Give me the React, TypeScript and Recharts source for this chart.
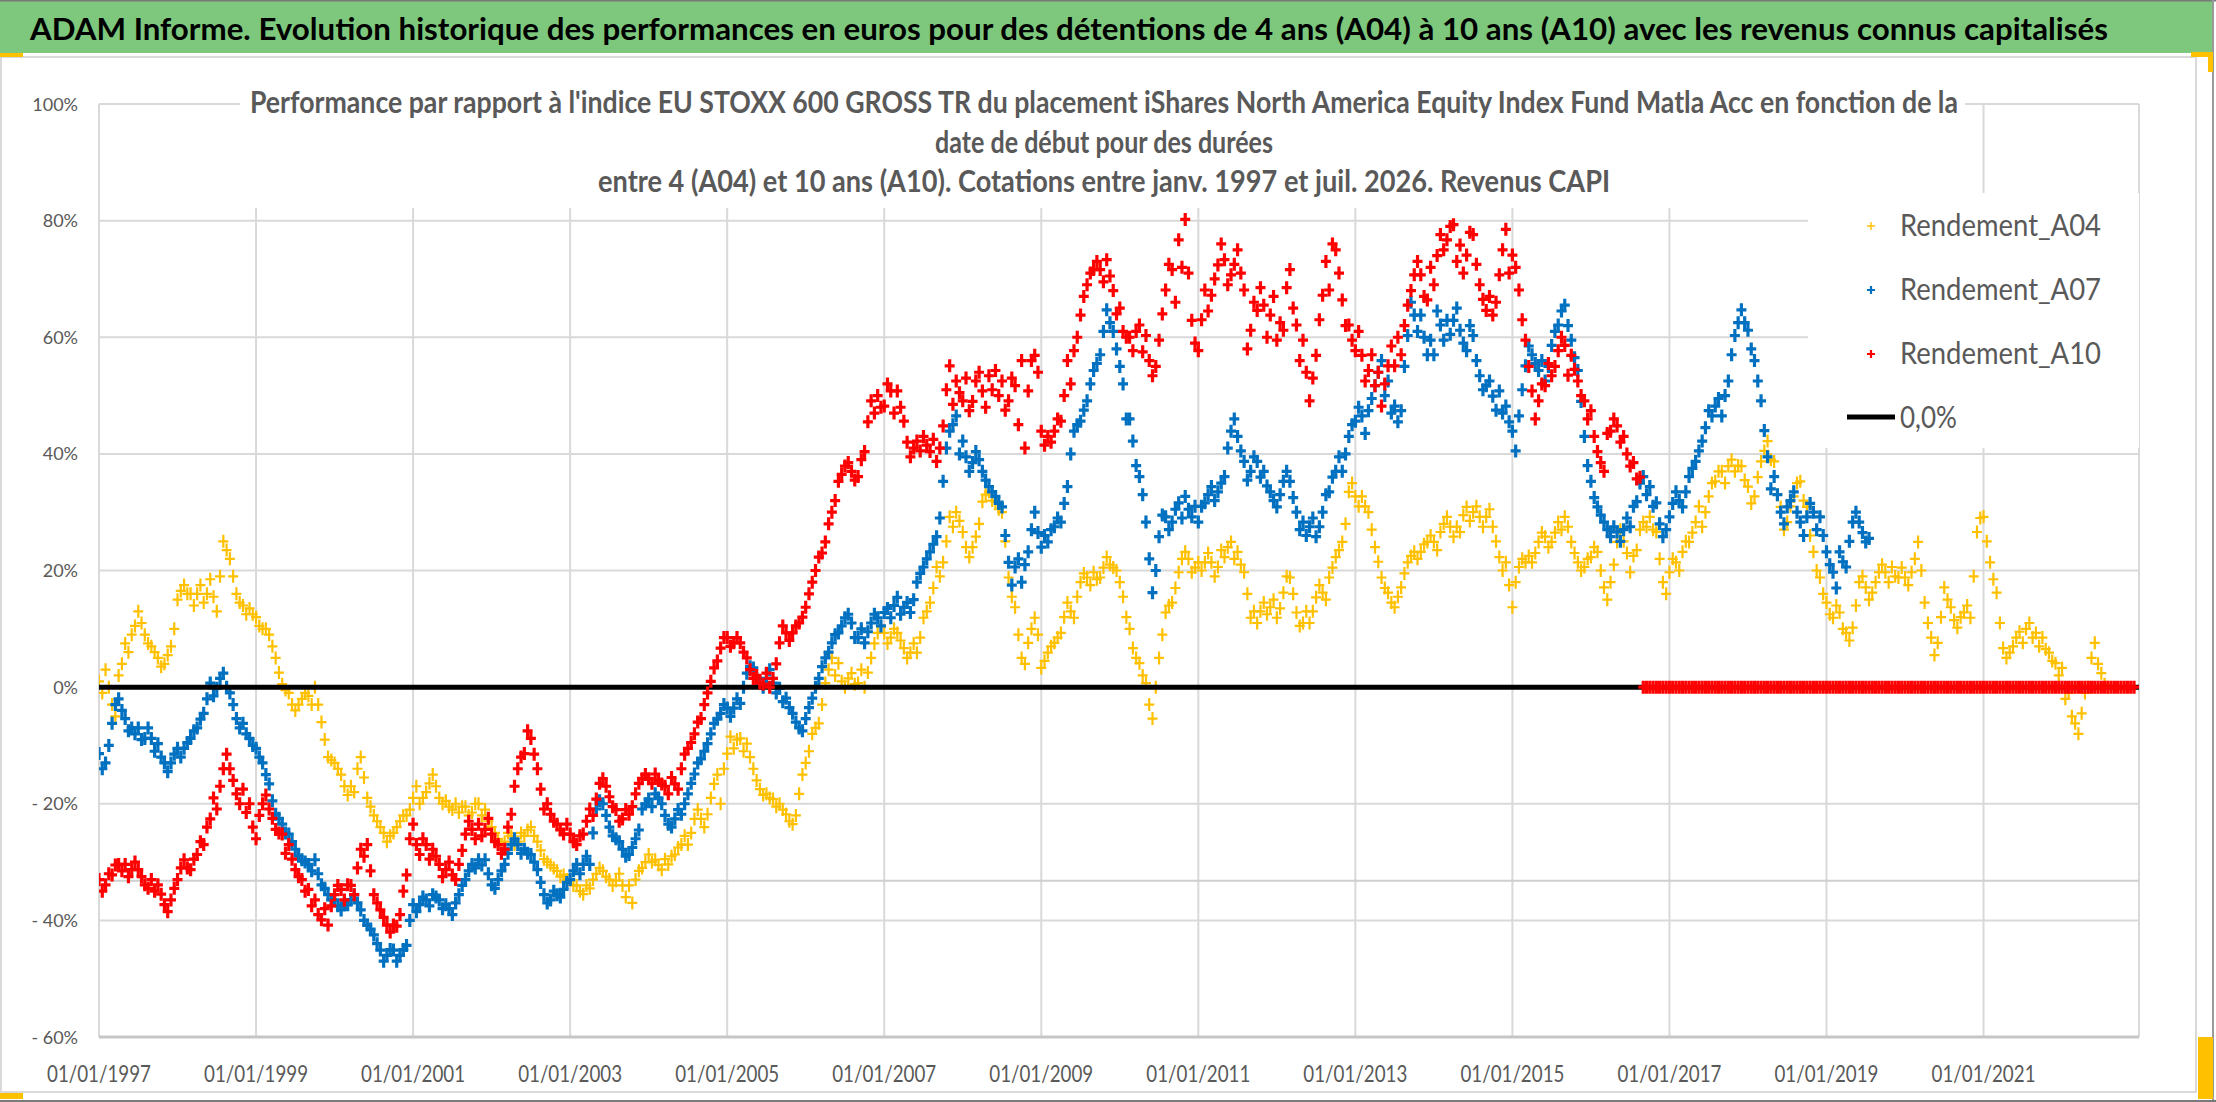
import React from 'react';
import { ScatterChart, Scatter, XAxis, YAxis, CartesianGrid } from 'recharts';

// Readings taken twice a month: *Values at the 1st of each month, *Mid at mid-month.
// First reading = 01/01/1997.
const START_YEAR = 1997;

const a04Values = [
  1, 3, -3, 2, 7.5, 9, 13, 9, 7, 5, 4, 7,
  15, 17.5, 16, 16, 14.5, 18.5, 13, 25, 22, 16, 14, 13.5,
  12, 10, 9, 5, 0.5, -1, -4, -2, -1.5, 0, -6, -12,
  -13, -15, -18.5, -18, -12, -19, -22, -24, -26.5, -25, -23, -22,
  -19, -20, -18, -15, -19, -19.5, -21, -21.5, -20.5, -21.5, -20, -21,
  -24, -26, -26.5, -25.5, -26.5, -25.5, -24, -26.5, -29.5, -30.5, -31.5, -32.2,
  -33, -34, -35.5, -34.5, -32, -31.5, -33, -33.2, -34, -34, -33, -31,
  -28.7, -29.6, -31.3, -30.4, -28.7, -27, -27, -22.6, -22.6, -21.8, -16.6, -20,
  -11.4, -10.5, -8.8, -9.7, -14, -17.5, -18.3, -19.2, -20, -21.8, -23.5, -18.3,
  -13, -8, -6.2, 0.7, 5, 4.1, 0, 2.4, 0.7, 0, 5, 9.3,
  9.3, 8.5, 9.3, 6.7, 5.9, 5.9, 11.9, 14.5, 20.6, 21.4, 29.2, 30,
  26.6, 22.3, 25.8, 31.8, 33.5, 31.8, 30, 18.8, 13.7, 5, 7.6, 11.9,
  3.3, 5.9, 7.6, 9.3, 14.5, 11.9, 18, 18.8, 19.7, 18.8, 22.3, 20.5,
  18, 12, 6.7, 4.1, 0.7, -5.4, 5, 12.8, 14.5, 19.7, 23.2, 19.7,
  21.4, 21.4, 21.4, 20.6, 22.3, 24.9, 23.2, 19.7, 11.9, 11, 14.5, 13.7,
  11.9, 16.2, 18.8, 12.8, 11, 11, 15.4, 16.2, 18.8, 22.3, 24.9, 33.5,
  32.7, 32.7, 30, 24, 18.8, 16.2, 13.7, 17.1, 21.4, 23.2, 23.2, 24.9,
  24.9, 26.6, 29.2, 25.8, 26.6, 30.9, 30, 29.2, 29.2, 27.5, 22.3, 21.4,
  13.7, 20.6, 21.4, 21.4, 24.9, 25.8, 24.9, 28.3, 29.2, 24.9, 21.4, 20.6,
  22.3, 23.2, 17.1, 18, 24.9, 25, 19.7, 23.5, 28.3, 29.2, 26.6, 18,
  19.7, 21.4, 23.2, 24.9, 28.3, 27.5, 32.7, 35.3, 37, 37.9, 37, 37.9,
  34.4, 32.7, 38.7, 42.2, 38.7, 30.9, 28.3, 32.7, 35.3, 30.9, 23.2, 18.8,
  14.5, 11.9, 12.8, 9.3, 10.2, 18, 17.1, 16.2, 19.7, 19.7, 20.6, 18.8,
  18.8, 19.7, 24.9, 14.5, 8.5, 7.6, 17.1, 13.7, 10.2, 12.8, 11.9, 26.6,
  29.2, 21.4, 16.2, 6.7, 5.9, 8.5, 7.6, 11, 9.3, 8.5, 5.9, 4.1,
  3.3, -1, -6.2, -4.5, 0, 7.6, 2.4, 0,
];

const a04Mid = [
  -1, 0, -5, 4, 6, 10.5, 11, 7.5, 6, 3.5, 5.5, 10,
  16.5, 16, 14, 17.5, 16, 15.5, 19, 23.5, 19, 14.5, 12.5, 12.5,
  10.5, 10, 7, 2.5, -0.5, -3, -3, -1, -3, -3, -9, -12.5,
  -14, -17, -17, -14, -15.5, -20.5, -23, -25, -25.5, -24, -22, -21,
  -17, -19, -16.5, -17, -20, -20.5, -20, -20.5, -22, -20, -22, -23,
  -25, -27, -25, -27, -25, -24.5, -25.5, -28, -30, -31, -32.5, -33,
  -34, -35, -34, -33, -31, -32.5, -34, -32, -36, -37, -31.5, -30,
  -30, -30.5, -29.5, -29, -27.5, -25.5, -25, -21, -24, -19, -15, -14,
  -8.5, -9, -11, -12, -16, -18.5, -19, -20.5, -21, -23, -22, -15,
  -11, -7, -3, 3, 2, 1, 1.5, 0.5, 3, 2.5, 7.5, 10.5,
  7.5, 10, 8, 5, 7.5, 8.5, 13, 17, 19, 25, 27.5, 28.5,
  24, 24, 28, 33, 32, 30.5, 25, 15.5, 9, 4, 10, 9,
  4.5, 7, 8.5, 12, 13, 15.5, 19.5, 17.5, 18.5, 20.5, 21, 20,
  15.5, 10, 5, 2, -3, 0, 9, 14, 17, 22, 22, 20.5,
  20, 23, 19, 23.5, 24, 22, 21, 16, 13, 13, 12.5, 15,
  13.5, 19, 16, 10.5, 13, 13, 17.5, 15, 20.5, 23.5, 28, 35,
  31, 31, 27, 21.5, 17, 14.5, 15.5, 19.5, 22.5, 22, 24.5, 26,
  23.5, 28, 27.5, 27.5, 29.5, 28.5, 31, 27.5, 30.5, 25, 20, 17.5,
  18, 22, 22.5, 23, 26.5, 24, 26.5, 27, 27.5, 23, 20, 22,
  24, 20, 15, 21, 27, 23, 22.5, 27, 27.5, 27, 22, 16,
  22, 20, 25, 26.5, 31, 30, 35, 37, 35, 39, 38, 35.5,
  31.5, 36, 40.5, 39, 33, 27, 31, 35, 32, 26, 20, 16,
  12.5, 14, 10, 8, 14, 19, 15, 18, 21, 18, 19, 20.5,
  17.5, 22, 20, 11, 5.5, 12, 15, 11.5, 12, 14, 19, 29,
  25, 18.5, 11, 5, 7, 9.5, 10, 8.5, 7, 6.5, 4.5, 2,
  -2, -5, -8, -1, 5, 4, 0.5,
];

const a07Values = [
  -11.4, -13, -6.2, -2, -5.4, -7, -7, -8.8, -8.8, -9.7, -13, -13,
  -10.5, -10.5, -8.8, -7, -4.5, 0.7, -0.2, 2.4, -1, -5.4, -6.2, -8.8,
  -10.5, -13, -16.6, -21.8, -23.5, -25.2, -27.8, -29.6, -30.4, -29.6, -33.9, -35.6,
  -36.5, -38.2, -37.3, -35.6, -38.2, -40.8, -42.5, -45.1, -46, -45.1, -46, -44.3,
  -37.3, -37.3, -36.5, -35.6, -36.5, -37.3, -39, -35.6, -33, -30.4, -29.6, -29.6,
  -33.9, -33, -30.4, -27, -27, -27.8, -28.7, -31.3, -35.6, -36.5, -35.6, -34.7,
  -33, -30.4, -30.4, -30.4, -20.9, -20, -24, -26, -27.8, -28.7, -26, -20.9,
  -19.2, -18.3, -20, -23.5, -22.6, -21.8, -18.3, -14.9, -12.3, -9.7, -6.2, -4.5,
  -3.6, -3.6, -2.8, 2.4, 3.3, 0.7, 1.5, 0.7, -0.2, -1.9, -4.5, -7,
  -5.4, -1.9, 1.5, 5, 7.6, 9.3, 11.9, 11, 8.5, 7.6, 11, 11.9,
  12.8, 11.9, 15.4, 13.7, 12.8, 18, 20.6, 23.2, 25.8, 35.3, 43.9, 46.5,
  42.2, 37, 40.4, 37, 34.4, 32.7, 30.9, 21.4, 20.6, 18, 23.2, 30,
  24, 24.9, 27.5, 28.3, 34.4, 43.9, 45.6, 49.1, 54.3, 57, 64.7, 61,
  55, 46, 42.2, 36.1, 28.3, 16.2, 25.8, 29.2, 28.3, 31.6, 32.7, 29.2,
  28.3, 31.6, 34.4, 33.5, 36.1, 43.9, 43, 38.7, 37, 38.7, 37, 33.5,
  30.9, 35.3, 35.3, 30, 28.3, 27.5, 25.8, 30, 33.5, 37, 37, 43,
  45.6, 46.5, 47.4, 51.7, 56, 52.5, 48.2, 47.4, 60.3, 63.8, 63.8, 57,
  57, 62.1, 62.9, 62.9, 61.2, 57.7, 60.3, 53.4, 51.7, 49.9, 50.8, 48.2,
  43.9, 46.5, 55.1, 57, 54.3, 52.5, 58.6, 62.1, 65.5, 59.5, 54.3, 43,
  35.3, 30.9, 28.3, 25.8, 26.6, 27, 27.5, 31.8, 36.1, 34.4, 31.6, 25.8,
  29.2, 33.5, 30.9, 36.1, 38.7, 42.2, 47.4, 48.2, 46.5, 52.5, 60.3, 64.7,
  61.2, 56, 49.1, 39.5, 36.1, 30, 30.9, 33.5, 28.3, 29.2, 30, 29.2,
  23.2, 19.7, 23.2, 20.6, 28.3, 28.3, 24.9,
];

const a07Mid = [
  -14, -10, -3, -4, -7.5, -8, -9, -7, -11, -12, -14.5, -11.5,
  -12, -9.5, -7.5, -5.5, -2, -1.5, 1.5, 0, -3, -7, -8, -10,
  -12, -15, -19.5, -22.5, -25, -26.5, -29, -30, -31.5, -32, -34.5, -36.5,
  -37.5, -37, -36.5, -37, -40, -41.5, -44, -47, -45, -47, -45, -40,
  -38.5, -36, -37.5, -36, -38, -38, -37, -34, -31.5, -31, -30.5, -32,
  -34.5, -31.5, -28.5, -26, -28.5, -28.5, -30, -33.5, -37, -35, -36, -33.5,
  -31.5, -32, -29, -25, -19.5, -22, -25.5, -26.5, -29, -27.5, -24.5, -20,
  -20.5, -19, -22, -24, -21, -20, -16.5, -13, -11, -8, -5.5, -3,
  -5, -2, 0, 3.5, 1.5, 0, 3, -1, -2.5, -3.5, -6, -7.5,
  -3.5, 0, 3.5, 6, 9, 10.5, 12.5, 8.5, 10, 9.5, 12.5, 10.5,
  13.5, 14, 12.5, 14.5, 15, 19.5, 22, 24.5, 29, 41, 45, 40,
  39.5, 38.5, 39, 35.5, 33.5, 31.5, 26, 17.5, 22, 21, 27, 26.5,
  26, 27, 29, 31.5, 40, 45, 47.5, 52, 55.5, 61, 62.5, 58,
  52, 46, 38, 33, 22, 20, 29.5, 27, 30.5, 29, 30.5, 31,
  31, 33, 32, 35, 41, 46, 40.5, 35.5, 39.5, 36, 34.5, 32,
  33, 37, 32.5, 27, 26, 29, 27.5, 33, 36, 39.5, 40, 45,
  48, 43.5, 49.5, 54, 50, 47, 45.5, 55, 66, 61, 60, 59.5,
  64.5, 59.5, 60.5, 65, 59, 62, 56, 51, 52.5, 47.5, 47, 45.5,
  40.5, 51, 58.5, 55.5, 56, 55, 61, 64.5, 62, 56.5, 49, 38,
  32.5, 29.5, 27, 27.5, 25, 29, 31, 35, 33, 31, 28, 27,
  31.5, 32, 33.5, 37.5, 40.5, 44.5, 46.5, 49.5, 50, 57, 62.5, 62.5,
  58, 52.5, 44, 34, 33, 28, 32, 30, 26, 31.5, 27, 26,
  21, 17, 21.5, 25, 30, 26.5, 25.5,
];

const a10Values = [
  -33, -33.9, -32.2, -30.4, -30.4, -31.3, -31.3, -33.9, -33, -33.9, -37.3, -36.5,
  -33, -29.6, -31.3, -28.7, -27, -22.6, -20.9, -14, -14, -18.3, -17.5, -20,
  -26, -20, -20.9, -24.4, -25.2, -27, -31.3, -33, -34.7, -36.5, -39.9, -40.8,
  -35.6, -34.7, -33.9, -35.6, -27.8, -27, -35.6, -38.2, -40.8, -40.8, -39, -32.2,
  -23.5, -28.7, -27, -27.8, -30.4, -31.3, -32.2, -30.4, -25.2, -24.4, -23.5, -24.4,
  -25.2, -27, -27.8, -21.8, -14, -11.4, -8.8, -14, -20.9, -21.8, -23.5, -25.2,
  -25.2, -27, -25.2, -20.9, -19.2, -15.7, -18.8, -21, -22.6, -21.8, -18.3, -15.7,
  -15.7, -14.9, -16.6, -18.3, -16.6, -14, -10.5, -8, -5.4, -1, 3.3, 6.7,
  8.5, 7.6, 7.6, 5, 1.5, 0.7, 2.4, 1.5, 7.6, 9.3, 9.3, 11,
  13.7, 18, 22.3, 24.9, 30, 35.3, 37.9, 37, 36.1, 40.4, 49.1, 50,
  48.2, 50.8, 50.8, 45.6, 39.5, 42.2, 43, 40.4, 38.7, 44.8, 55.1, 52.5,
  49.1, 47.4, 52.5, 50.8, 53.4, 54.3, 52.5, 49.1, 51.7, 56, 50.8, 56.9,
  43.9, 43, 43.9, 45.6, 56, 57.7, 63.8, 69, 71.6, 71.6, 73.3, 68,
  65, 60, 57.7, 62.1, 60.3, 53.4, 59.5, 68.1, 71.6, 76.7, 80.2, 62.9,
  57.7, 68.1, 67.2, 72.4, 73.3, 70.7, 75, 68.1, 61.2, 64.6, 65.5, 63.8,
  59.5, 61.2, 71.6, 62.1, 59.5, 49.1, 56.9, 67.2, 68.1, 75, 66.4, 62.1,
  57.7, 56.9, 54.3, 51.7, 48.2, 55.1, 55.1, 57, 65.5, 70.7, 70.7, 66.4,
  69, 77.6, 76.7, 79.3, 75.8, 74.1, 77.6, 69, 64.6, 63.8, 70.7, 78.5,
  74.1, 68.1, 59.5, 50.8, 49.1, 51.7, 53.4, 57.7, 58.6, 56.9, 52.5, 49.1,
  47.4, 40.4, 37, 43.9, 44.8, 43, 37.9, 35.7,
];

const a10Mid = [
  -35, -32, -30.5, -31.5, -32.5, -30, -32.5, -34.5, -35, -35.5, -38.5, -34.5,
  -31, -31, -29.5, -26.5, -24, -19, -17, -11.5, -16, -20, -21.5, -24,
  -22, -18.5, -22.5, -25, -28.5, -29.5, -32.5, -35, -37.5, -39, -38, -37.5,
  -34, -36.5, -34, -31, -29, -31.5, -37, -39.5, -42, -41, -35, -26,
  -27, -26, -29.5, -29, -32.5, -30, -33, -28, -23, -26, -25.5, -22.5,
  -26.5, -28.5, -24, -17, -12, -7.5, -11.5, -17.5, -20, -23, -24.5, -23.5,
  -26.5, -25.5, -23, -22, -16.5, -17, -20.5, -23, -21, -20.5, -16.5, -15,
  -16.5, -16, -17, -15.5, -17.5, -11.5, -9.5, -6, -3, 1, 4.5, 8.5,
  7, 8.5, 6, 3, 2, 0.5, 0, 4, 10.5, 8, 10.5, 12,
  16, 20, 23, 28, 32, 36.5, 38.5, 35.5, 39, 45.5, 47, 48,
  52, 47, 48, 42, 41, 40.5, 41.5, 42.5, 41, 51, 48.5, 50.5,
  53, 49, 54, 48, 51, 50, 47.5, 53, 45, 41, 56, 54,
  41.5, 42, 46, 50, 52, 60, 67, 71, 73, 69.5, 70.5, 64,
  61, 60, 61, 57.5, 56, 55, 64, 72.5, 66, 72, 71, 59,
  63, 64.5, 70, 76, 69, 72.5, 71, 58, 66, 68.5, 60, 67,
  62.5, 68.5, 65, 56, 54, 53, 63, 73, 76, 71, 62, 59.5,
  61, 52.5, 57, 54, 52, 58.5, 60, 62, 68, 73, 67, 72,
  74, 75, 79, 73, 71, 78, 72.5, 66.5, 67, 66, 75, 71,
  72, 63, 55, 46, 52, 55.5, 55, 60, 53.5, 54.5, 50, 46,
  43, 38.5, 43.5, 46, 42, 40, 38.5, 36,
];

// after mid-2016 the 10-year window is not complete: plotted at 0
const a10ZeroStart = 236;
const a10ZeroTail = [
  0, 0, 0, 0, 0, 0, 0, 0, 0, 0, 0, 0, 0, 0, 0, 0, 0, 0, 0, 0, 0, 0, 0, 0, 0,
  0, 0, 0, 0, 0, 0, 0, 0, 0, 0, 0, 0, 0, 0, 0, 0, 0, 0, 0, 0, 0, 0, 0, 0, 0,
  0, 0, 0, 0, 0, 0, 0, 0, 0, 0, 0, 0, 0, 0, 0, 0, 0, 0, 0, 0, 0, 0, 0, 0, 0, 0,
];
const a10ZeroTailMid = [
  0, 0, 0, 0, 0, 0, 0, 0, 0, 0, 0, 0, 0, 0, 0, 0, 0, 0, 0, 0, 0, 0, 0, 0, 0,
  0, 0, 0, 0, 0, 0, 0, 0, 0, 0, 0, 0, 0, 0, 0, 0, 0, 0, 0, 0, 0, 0, 0, 0, 0,
  0, 0, 0, 0, 0, 0, 0, 0, 0, 0, 0, 0, 0, 0, 0, 0, 0, 0, 0, 0, 0, 0, 0, 0, 0,
];

const zeroLineDates = [1997, 2022.98];
const greyLineValue = -33.2;
const xDomain = [1997, 2022.98];
const xTicks = [1997, 1999, 2001, 2003, 2005, 2007, 2009, 2011, 2013, 2015, 2017, 2019, 2021];
const yTicks = [-60, -40, -20, 0, 20, 40, 60, 80, 100];

const titleText =
  'ADAM Informe. Evolution historique des performances en euros pour des détentions de 4 ans (A04) à 10 ans (A10) avec les revenus connus capitalisés';
const subtitleLines = [
  "Performance par rapport à l'indice EU STOXX 600 GROSS TR  du placement iShares North America Equity Index Fund Matla Acc en fonction de la",
  'date de début pour des durées',
  'entre 4 (A04) et 10 ans (A10). Cotations entre janv. 1997 et juil. 2026. Revenus CAPI',
];
const subtitleWidths = [1708, 338, 1012];
const legendLabels = ['Rendement_A04', 'Rendement_A07', 'Rendement_A10', '0,0%'];
const legendWidths = [201, 201, 201, 57];

const YELLOW = '#FFC000';
const BLUE = '#0070C0';
const RED = '#FF0000';
const GREY_TEXT = '#595959';
const FONT = 'Lato, "Open Sans", sans-serif';

const toPoints = (values: number[], offset = 0, frac = 0) =>
  values.map((v, i) => ({ x: START_YEAR + (offset + i + frac) / 12, y: v }));

const a04Data = [...toPoints(a04Values), ...toPoints(a04Mid, 0, 0.5)];
const a07Data = [...toPoints(a07Values), ...toPoints(a07Mid, 0, 0.5)];
const a10Data = [
  ...toPoints(a10Values),
  ...toPoints(a10Mid, 0, 0.5),
  ...toPoints(a10ZeroTail, a10ZeroStart),
  ...toPoints(a10ZeroTailMid, a10ZeroStart, 0.5),
];
const zeroLineData = zeroLineDates.map(x => ({ x, y: 0 }));
const greyLineData = xDomain.map(x => ({ x, y: greyLineValue }));

const crossPath = (cx: number, cy: number, w: number, h: number) =>
  `M${cx - w / 2},${cy}H${cx + w / 2}M${cx},${cy - h / 2}V${cy + h / 2}`;

const cross = (color: string, w: number, h: number, width: number) => (props: any) => {
  const { cx, cy } = props;
  if (cx == null || cy == null) return <g />;
  return <path d={crossPath(cx, cy, w, h)} stroke={color} strokeWidth={width} fill="none" />;
};

const noShape = () => <g />;

const XTick = (props: any) => {
  const { x, y, payload } = props;
  return (
    <text
      x={x} y={y + 37} textAnchor="middle" fontFamily={FONT} fontSize={23} fill={GREY_TEXT}
      textLength={104} lengthAdjust="spacingAndGlyphs"
    >
      {`01/01/${payload.value}`}
    </text>
  );
};

const YTick = (props: any) => {
  const { x, y, payload } = props;
  const v = payload.value as number;
  const label = v < 0 ? `- ${-v}%` : `${v}%`;
  return (
    <text x={x - 13} y={y + 6.5} textAnchor="end" fontFamily={FONT} fontSize={18} fill={GREY_TEXT}>
      {label}
    </text>
  );
};

const legendRows = [236, 300, 364, 428];
const legendColors = [YELLOW, BLUE, RED];

const Overlay = () => (
  <svg width={2216} height={1102} style={{ position: 'absolute', left: 0, top: 0, pointerEvents: 'none' }}>
    {/* title band */}
    <rect x={0} y={0} width={2213} height={53} fill="#7DC87D" />
    <line x1={0} y1={0.5} x2={2216} y2={0.5} stroke="#7a7a7a" strokeWidth={2} />
    <line x1={2213} y1={0} x2={2213} y2={1102} stroke="#9a9a9a" strokeWidth={2} />
    <line x1={0} y1={1101} x2={2216} y2={1101} stroke="#7a7a7a" strokeWidth={2} />
    <text
      x={1069} y={40} textAnchor="middle" fontFamily={FONT} fontWeight={700} fontSize={31} fill="#000"
      textLength={2078} lengthAdjust="spacingAndGlyphs"
    >
      {titleText}
    </text>
    {/* chart frame */}
    <rect x={1} y={57} width={2195} height={1035} fill="none" stroke="#D9D9D9" strokeWidth={2} />
    <rect x={0} y={53} width={23} height={4} fill={YELLOW} />
    <rect x={2191} y={52} width={22} height={5} fill={YELLOW} />
    <rect x={2208} y={52} width={5} height={20} fill={YELLOW} />
    <rect x={2198} y={1037} width={15} height={62} fill={YELLOW} />
    <rect x={0} y={1093} width={23} height={6} fill={YELLOW} />
    {/* chart title */}
    <rect x={240} y={86} width={1725} height={122} fill="#fff" />
    {subtitleLines.map((s, i) => (
      <text
        key={i} x={1104} y={113 + i * 39.5} textAnchor="middle" fontFamily={FONT} fontWeight={700}
        fontSize={30} fill={GREY_TEXT} textLength={subtitleWidths[i]} lengthAdjust="spacingAndGlyphs"
      >
        {s}
      </text>
    ))}
    {/* legend */}
    <rect x={1808} y={193} width={331} height={255} fill="#fff" />
    {legendLabels.map((s, i) => (
      <g key={s}>
        {i < 3 ? (
          <path
            d={crossPath(1871, legendRows[i] - 10, 8, 8)}
            stroke={legendColors[i]} strokeWidth={i === 0 ? 1.4 : 2.2} fill="none"
          />
        ) : (
          <line x1={1847} y1={legendRows[i] - 11} x2={1895} y2={legendRows[i] - 11} stroke="#000" strokeWidth={5} />
        )}
        <text
          x={1900} y={legendRows[i]} fontFamily={FONT} fontSize={30} fill={GREY_TEXT}
          textLength={legendWidths[i]} lengthAdjust="spacingAndGlyphs"
        >
          {s}
        </text>
      </g>
    ))}
  </svg>
);

export default function App() {
  return (
    <div style={{ position: 'absolute', left: 0, top: 0, width: 2216, height: 1102, background: '#fff' }}>
      <ScatterChart width={2216} height={1102} margin={{ top: 104, right: 77, bottom: 15, left: 9 }}>
        <CartesianGrid stroke="#D9D9D9" strokeWidth={2} />
        <XAxis
          type="number" dataKey="x" domain={xDomain} ticks={xTicks} interval={0} allowDataOverflow
          height={50} tickLine={false} axisLine={{ stroke: '#C6C6C6', strokeWidth: 3 }} tick={<XTick />}
        />
        <YAxis
          type="number" dataKey="y" domain={[-60, 100]} ticks={yTicks} interval={0} allowDataOverflow
          width={90} tickLine={false} axisLine={false} tick={<YTick />}
        />
        <Scatter data={greyLineData} line={{ stroke: '#CFCFCF', strokeWidth: 2 }} shape={noShape} isAnimationActive={false} />
        <Scatter data={a04Data} shape={cross(YELLOW, 10, 13, 2.2)} isAnimationActive={false} />
        <Scatter data={a07Data} shape={cross(BLUE, 10, 13, 3.2)} isAnimationActive={false} />
        <Scatter data={zeroLineData} line={{ stroke: '#000', strokeWidth: 5 }} shape={noShape} isAnimationActive={false} />
        <Scatter data={a10Data} shape={cross(RED, 10, 13, 3.2)} isAnimationActive={false} />
      </ScatterChart>
      <Overlay />
    </div>
  );
}
